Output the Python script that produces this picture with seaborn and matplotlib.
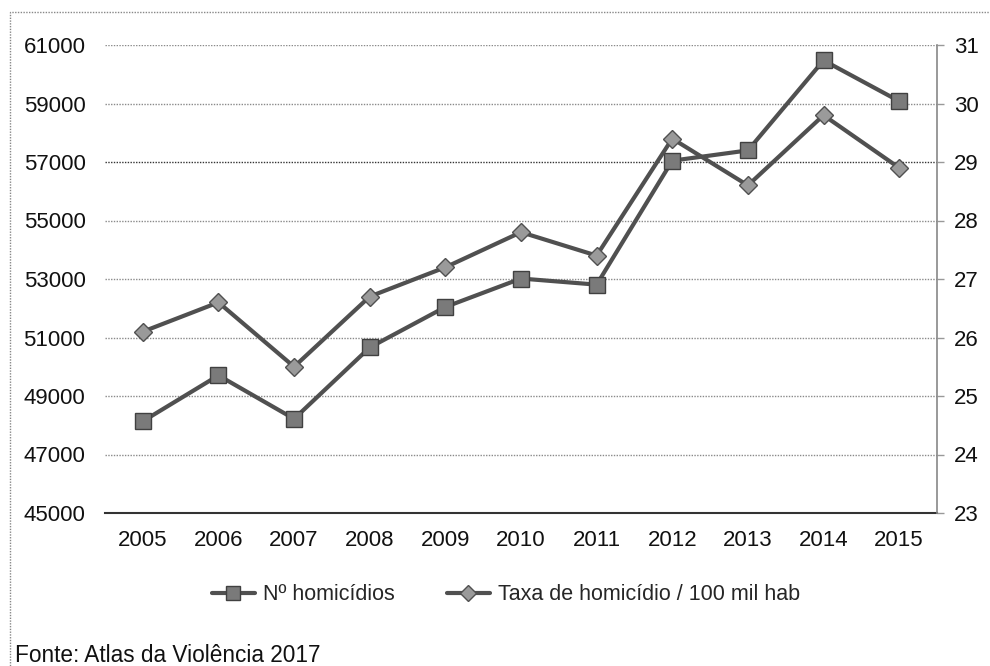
import matplotlib
matplotlib.use("Agg")
import matplotlib.pyplot as plt
from matplotlib.lines import Line2D
from matplotlib.patches import Rectangle
import seaborn as sns
import pandas as pd

years = [2005, 2006, 2007, 2008, 2009, 2010, 2011, 2012, 2013, 2014, 2015]
homicidios = [48136, 49704, 48219, 50659, 52043, 53016, 52807, 57045, 57396, 60474, 59080]
taxa = [26.1, 26.6, 25.5, 26.7, 27.2, 27.8, 27.4, 29.4, 28.6, 29.8, 28.9]
left_ticks = [45000, 47000, 49000, 51000, 53000, 55000, 57000, 59000, 61000]
right_ticks = [23, 24, 25, 26, 27, 28, 29, 30, 31]
label_hom = "Nº homicídios"
label_taxa = "Taxa de homicídio / 100 mil hab"
source = "Fonte: Atlas da Violência 2017"

df = pd.DataFrame({"ano": years, "hom": homicidios, "taxa": taxa})

sns.set_theme(style="white")
plt.rcParams["font.family"] = ["Liberation Sans", "DejaVu Sans"]

fig = plt.figure(figsize=(9.9, 6.66), dpi=100)
ax = fig.add_axes([105/990, 1-513/666, (937-105)/990, (513-45)/666])
ax2 = ax.twinx()

line_col = "#505050"
face_col = "#7a7a7a"

sns.lineplot(data=df, x="ano", y="hom", ax=ax, color=line_col, linewidth=3,
             marker="s", markersize=11, markerfacecolor=face_col,
             markeredgecolor="#404040", markeredgewidth=1, zorder=5)
sns.lineplot(data=df, x="ano", y="taxa", ax=ax2, color=line_col, linewidth=3,
             marker="D", markersize=9, markerfacecolor="#9a9a9a",
             markeredgecolor="#505050", markeredgewidth=1, zorder=5)

ax.set_xlim(2004.5, 2015.5)
ax.set_ylim(45000, 61000)
ax2.set_ylim(23, 31)
ax.set_xticks(years)
ax.set_xticklabels([str(y) for y in years])
ax.set_yticks(left_ticks)
ax.set_yticklabels([str(v) for v in left_ticks])
ax2.set_yticks(right_ticks)
ax2.set_yticklabels([str(v) for v in right_ticks])
ax.set_xlabel("")
ax.set_ylabel("")
ax2.set_ylabel("")

for v in left_ticks[1:]:
    ax.axhline(v, color="#8a8a8a" if v != 57000 else "#333333",
               linestyle=(0, (1, 1)), linewidth=1, zorder=1)

ax.tick_params(axis="x", length=0, pad=12, labelsize=16, colors="#111111")
ax.tick_params(axis="y", length=0, pad=14, labelsize=16, colors="#111111")
ax2.tick_params(axis="y", length=5, width=1, color="#999999", pad=7,
                labelsize=16, colors="#111111", direction="out")

for a in (ax, ax2):
    for s in ("top", "left", "right", "bottom"):
        a.spines[s].set_visible(False)
ax2.spines["right"].set_visible(True)
ax2.spines["right"].set_color("#888888")
ax2.spines["right"].set_linestyle((0, (1, 1)))
ax2.spines["right"].set_linewidth(1.2)
ax.spines["bottom"].set_visible(True)
ax.spines["bottom"].set_color("#333333")
ax.spines["bottom"].set_linewidth(1.5)

handles = [
    Line2D([0], [0], color=line_col, linewidth=3, marker="s", markersize=10,
           markerfacecolor=face_col, markeredgecolor="#404040"),
    Line2D([0], [0], color=line_col, linewidth=3, marker="D", markersize=8,
           markerfacecolor="#9a9a9a", markeredgecolor="#505050"),
]
fig.legend(handles, [label_hom, label_taxa], loc="center",
           bbox_to_anchor=(506/990, 1-595/666), ncol=2, frameon=False,
           fontsize=15.5, handlelength=2.0, handletextpad=0.4, columnspacing=2.4)

fig.text(15/990, 1-655/666, source, fontsize=16.3, ha="left", va="center",
         color="#111111")

fig.patches.append(Rectangle((10/990, -0.01), 1.0, 1-12/666+0.01,
                             transform=fig.transFigure, fill=False,
                             edgecolor="#888888", linestyle=(0, (1, 1)),
                             linewidth=1))

fig.savefig("out.png", dpi=100)
